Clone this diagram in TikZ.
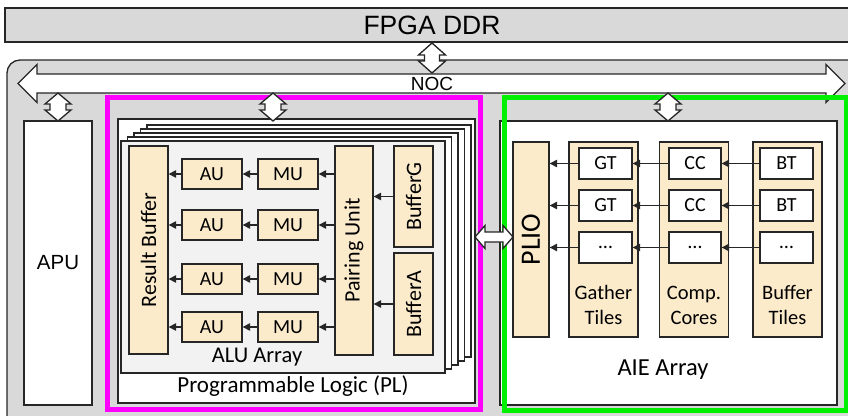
\documentclass[tikz,border=0pt]{standalone}
\usepackage{fontspec}
\setmainfont{Carlito}
\newfontfamily\arialfont{Liberation Sans}
\usetikzlibrary{arrows.meta}
\definecolor{ddrgray}{HTML}{D9D9D9}
\definecolor{sheetgray}{HTML}{F2F2F2}
\definecolor{unitfill}{HTML}{FCEBCB}
\definecolor{edge}{HTML}{262626}
\definecolor{plmag}{HTML}{FF00FF}
\definecolor{aiegreen}{HTML}{00F000}
\tikzset{
  box/.style={draw=edge,line width=1.3pt,inner sep=0pt},
  unit/.style={box,fill=unitfill,font=\fontsize{20}{24}\selectfont},
  tile/.style={box,fill=white,minimum width=53,minimum height=31,font=\fontsize{20}{24}\selectfont},
  busline/.style={draw=edge,fill=white,line width=1.3pt,line join=miter},
  link/.style={-{Triangle[length=7.5pt,width=7.5pt]},line width=1.2pt,draw=edge},
  sanslabel/.style={font=\arialfont\fontsize{19}{22}\selectfont},
  % two-headed block arrow: half length, half head width, half shaft width, head length
  pics/dbar/.style n args={4}{code={
    \draw[busline] (-#1,0) -- (-#1+#4,-#2) -- (-#1+#4,-#3) -- (#1-#4,-#3) -- (#1-#4,-#2) -- (#1,0)
      -- (#1-#4,#2) -- (#1-#4,#3) -- (-#1+#4,#3) -- (-#1+#4,#2) -- cycle;
  }},
}
\begin{document}
\begin{tikzpicture}[x=1pt,y=-1pt]
  \useasboundingbox (0,0) rectangle (848,415);
  \clip (0,0) rectangle (848,415);
  % DDR and the SoC frame
  \draw[box,fill=ddrgray] (5,8) rectangle (880,42);
  \node[font=\arialfont\fontsize{26.5}{30}\selectfont] (ddr) at (432,25.5) {FPGA DDR};
  \draw[box,fill=ddrgray,rounded corners=13pt] (7,60) rectangle (880,440);
  \pic (noc) at (431.5,83.5) {dbar={413.5}{19}{9.5}{19}};
  \node[sanslabel] (noclabel) at (432,84) {NOC};
  \pic[rotate=90] (ddrlink) at (432,58) {dbar={15}{13.5}{7.5}{12}};

  % APU
  \node[box,fill=white,font=\arialfont\fontsize{20.5}{24}\selectfont,minimum width=68,minimum height=284] (apu) at (58,263) {APU};

  % programmable logic
  \node[box,fill=white,minimum width=357,minimum height=284] (pl) at (296.5,261) {};
  \foreach \k in {4,3,2,1}
    \draw[box,line width=1.1pt,fill=white] ({121+6.5*\k},{141-4*\k}) rectangle ({445+6.5*\k},{373-4*\k});
  \node[box,line width=1.1pt,fill=sheetgray,minimum width=324,minimum height=232] (alu) at (283,257) {};
  \node[unit,font=\fontsize{22}{26}\selectfont,minimum width=39,minimum height=208] (resbuf) at (148.5,250) {\rotatebox{90}{Result Buffer}};
  \node[unit,font=\fontsize{22}{26}\selectfont,minimum width=38,minimum height=209] (pair) at (354,250.5) {\rotatebox{90}{Pairing Unit}};
  \node[unit,font=\fontsize{22}{26}\selectfont,minimum width=39,minimum height=101] (bufg) at (413.5,196.5) {\rotatebox{90}{BufferG}};
  \node[unit,font=\fontsize{22}{26}\selectfont,minimum width=39,minimum height=102] (bufa) at (413.5,304) {\rotatebox{90}{BufferA}};
  \foreach \r/\y in {1/174,2/225,3/279,4/327} {
    \node[unit,minimum width=60,minimum height=30] (au\r) at (212,\y) {AU};
    \node[unit,minimum width=60,minimum height=30] (mu\r) at (288,\y) {MU};
    \draw[link] (pair.west |- mu\r) -- (mu\r.east);
    \draw[link] (mu\r.west) -- (au\r.east);
    \draw[link] (au\r.west) -- (resbuf.east |- au\r);
  }
  \draw[link] (bufg.west) -- (pair.east |- bufg);
  \draw[link] (bufa.west) -- (pair.east |- bufa);
  \node[font=\fontsize{22.5}{26}\selectfont] (alulabel) at (257,357) {ALU Array};
  \node[font=\fontsize{23}{26}\selectfont] (pllabel) at (293,386) {Programmable Logic (PL)};

  % AIE array
  \node[box,fill=white,minimum width=337,minimum height=284] (aie) at (668.5,263) {};
  \node[unit,font=\fontsize{28}{32}\selectfont,minimum width=36,minimum height=195] (plio) at (531,239.5) {\rotatebox{90}{PLIO}};
  \foreach \c/\x/\a/\b in {gather/603.5/Gather/Tiles,comp/694/Comp./Cores,bufcol/787.5/Buffer/Tiles} {
    \node[unit,minimum width=69,minimum height=195] (\c) at (\x,239.5) {};
    \node[align=center,font=\fontsize{20.5}{25}\selectfont] (\c label) at (\x,305) {\a\\\b};
  }
  \foreach \r/\y/\t/\u/\v in {1/163.5/GT/CC/BT,2/205.5/GT/CC/BT,3/247.5/\ldots/\ldots/\ldots} {
    \node[tile] (gt\r) at (605.5,\y) {\t};
    \node[tile,minimum width=52] (cc\r) at (695,\y) {\u};
    \node[tile] (bt\r) at (786.5,\y) {\v};
    \draw[link] (bt\r.west) -- (cc\r.east);
    \draw[link] (cc\r.west) -- (gt\r.east);
    \draw[link] (gt\r.west) -- (plio.east |- gt\r);
  }
  \node[font=\fontsize{24.5}{28}\selectfont] (aielabel) at (663,370) {AIE Array};

  % highlight frames
  \draw[plmag,line width=5pt] (107.5,97.5) rectangle (480.5,409.5);
  \draw[aiegreen,line width=5pt] (504,97.5) rectangle (846.5,410.5);

  % links off the NOC
  \pic[rotate=90] (apulink) at (58,107) {dbar={14}{13}{8}{11}};
  \pic[rotate=90] (pllink) at (273,107) {dbar={14}{13}{8}{11}};
  \pic[rotate=90] (aielink) at (668,107) {dbar={14}{13}{8}{11}};
  \pic (plaie) at (494,237) {dbar={19}{11.5}{5}{10}};
\end{tikzpicture}
\end{document}
